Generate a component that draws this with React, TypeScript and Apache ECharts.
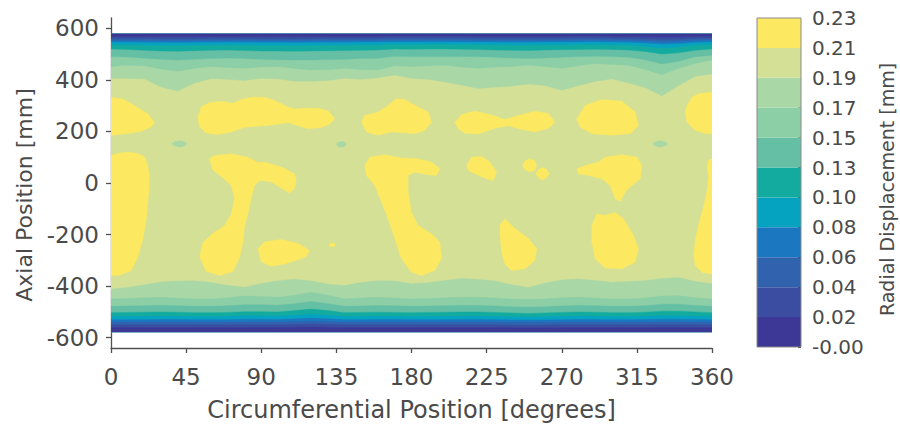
import React, { useEffect, useRef } from "react";
import * as echarts from "echarts";

// ---------- data ----------
// colour of each contour level (0: -0.00..0.02 ... 10: 0.21..0.23)
const levelColors = [
  "#3d3895", "#3a4da0", "#3062ae", "#1b78c0", "#06a3c0", "#13ab9f",
  "#64bfa4", "#8ccea6", "#aad7a6", "#d3e096", "#fde961",
];
const colorbarLabels = ["-0.00", "0.02", "0.04", "0.06", "0.08", "0.10", "0.13", "0.15", "0.17", "0.19", "0.21", "0.23"];
const yTickValues = [-600, -400, -200, 0, 200, 400, 600];

// extent of the measured surface (mm)
const topEdge = 578;
const bottomEdge = -577;

// circumferential positions (deg) of the band boundary samples
const bandDeg = [0, 10, 20, 30, 40, 50, 60, 70, 80, 90, 100, 110, 120, 130, 140, 150, 160, 170, 180, 190, 200, 210, 220, 230, 240, 250, 260, 270, 280, 290, 300, 310, 320, 330, 340, 350, 360];

// top edge contour boundaries (mm)
const topB19 = [406, 406, 404, 372, 357, 388, 405, 402, 398, 406, 404, 395, 395, 398, 406, 402, 408, 419, 406, 402, 392, 380, 367, 372, 376, 384, 378, 360, 378, 394, 404, 388, 370, 338, 378, 414, 423];
const topB17 = [452, 457, 455, 442, 433, 445, 452, 448, 445, 450, 452, 444, 438, 440, 445, 440, 438, 455, 452, 455, 457, 450, 445, 450, 452, 457, 452, 445, 455, 464, 460, 457, 440, 420, 445, 464, 477];
const topB15 = [491, 489, 484, 480, 477, 480, 483, 485, 483, 480, 478, 477, 477, 479, 480, 483, 484, 492, 491, 491, 491, 491, 490, 488, 485, 483, 485, 488, 491, 492, 491, 488, 478, 462, 472, 490, 496];
const topB13 = [520, 518, 515, 512, 511, 513, 515, 516, 514, 512, 512, 511, 512, 513, 514, 515, 516, 520, 519, 520, 520, 519, 518, 516, 515, 514, 516, 517, 518, 519, 518, 516, 510, 500, 505, 515, 520];
const topB10 = [537, 536, 535, 534, 534, 535, 535, 536, 535, 534, 534, 533, 534, 535, 535, 536, 536, 538, 537, 538, 538, 537, 537, 536, 535, 535, 536, 536, 537, 537, 536, 535, 530, 524, 528, 535, 538];
const topB08 = [547, 547, 546, 546, 545, 546, 546, 547, 546, 546, 546, 545, 546, 546, 546, 547, 547, 548, 548, 548, 548, 547, 547, 547, 546, 546, 547, 547, 547, 548, 547, 546, 543, 539, 541, 546, 548];
const topB06 = [554, 554, 554, 553, 553, 553, 554, 554, 554, 553, 553, 553, 553, 554, 554, 554, 554, 555, 555, 555, 555, 555, 554, 554, 554, 554, 554, 554, 555, 555, 554, 554, 552, 549, 550, 554, 555];
const topB04 = [561, 561, 561, 560, 560, 560, 561, 561, 561, 560, 560, 560, 560, 561, 561, 561, 561, 562, 562, 562, 562, 562, 561, 561, 561, 561, 561, 561, 562, 562, 561, 561, 559, 557, 558, 561, 562];
const topB02 = [569, 569, 569, 568, 568, 568, 569, 569, 569, 568, 568, 568, 568, 569, 569, 569, 569, 570, 570, 570, 570, 570, 569, 569, 569, 569, 569, 569, 570, 570, 569, 569, 568, 566, 567, 569, 570];

// bottom edge contour boundaries (mm)
const botB19 = [-412, -405, -395, -384, -380, -379, -386, -398, -404, -390, -379, -373, -380, -393, -398, -386, -379, -380, -391, -387, -378, -370, -374, -380, -395, -405, -388, -376, -372, -378, -385, -382, -379, -370, -367, -382, -391];
const botB17 = [-450, -448, -445, -443, -446, -450, -450, -445, -438, -440, -443, -435, -424, -435, -450, -446, -443, -446, -450, -448, -445, -443, -443, -446, -450, -452, -450, -445, -443, -446, -450, -450, -446, -438, -437, -445, -450];
const botB15 = [-478, -477, -476, -475, -476, -478, -478, -476, -472, -472, -474, -468, -460, -468, -478, -477, -475, -476, -478, -477, -476, -475, -475, -477, -480, -482, -480, -477, -475, -476, -478, -478, -476, -470, -470, -475, -478];
const botB13 = [-503, -502, -501, -500, -501, -503, -503, -502, -499, -499, -500, -495, -489, -495, -503, -502, -501, -502, -503, -502, -501, -500, -500, -502, -504, -506, -504, -502, -500, -501, -503, -503, -501, -497, -497, -500, -503];
const botB10 = [-518, -518, -517, -517, -517, -518, -518, -517, -515, -515, -516, -513, -509, -513, -518, -518, -517, -517, -518, -518, -517, -517, -517, -518, -519, -520, -519, -518, -517, -517, -518, -518, -517, -515, -515, -517, -518];
const botB08 = [-530, -530, -530, -529, -529, -530, -530, -530, -528, -528, -529, -527, -524, -527, -530, -530, -529, -529, -530, -530, -530, -529, -529, -530, -531, -531, -531, -530, -529, -529, -530, -530, -529, -528, -528, -529, -530];
const botB06 = [-540, -540, -540, -540, -540, -540, -540, -540, -539, -539, -539, -538, -536, -538, -540, -540, -540, -540, -540, -540, -540, -540, -540, -540, -541, -541, -541, -540, -540, -540, -540, -540, -540, -539, -539, -540, -540];
const botB04 = [-551, -551, -551, -551, -551, -551, -551, -551, -550, -550, -550, -549, -548, -549, -551, -551, -551, -551, -551, -551, -551, -551, -551, -551, -552, -552, -552, -551, -551, -551, -551, -551, -551, -550, -550, -551, -551];
const botB02 = [-561, -561, -561, -561, -561, -561, -561, -561, -561, -561, -561, -560, -559, -560, -561, -561, -561, -561, -561, -561, -561, -561, -561, -561, -562, -562, -562, -561, -561, -561, -561, -561, -561, -561, -561, -561, -561];

// regions above 0.21 mm (outline points, [deg, mm])
const blobA = [[0, 333], [7, 326], [14, 301], [22, 269], [26, 236], [24, 217], [18, 200], [8, 190], [0, 185]];
const blobA360 = [[360, 353], [352, 346], [348, 333], [345, 300], [344, 275], [345, 236], [350, 204], [356, 192], [360, 190]];
const blobB = [[52, 255], [54, 295], [59, 312], [66, 317], [73, 309], [79, 326], [86, 334], [93, 331], [99, 317], [105, 298], [110, 287], [116, 290], [124, 290], [130, 280], [134, 250], [131, 228], [126, 215], [118, 210], [112, 222], [106, 235], [98, 226], [88, 220], [80, 216], [72, 198], [64, 188], [57, 194], [53, 218]];
const blobC = [[0, 108], [5, 116], [10, 120], [16, 114], [20, 102], [22, 70], [23, 30], [23, -10], [22, -80], [21, -150], [19, -220], [16, -290], [12, -340], [5, -358], [0, -360]];
const blobC360 = [[360, 94], [358, 90], [357, 60], [358, 25], [357, -30], [355, -90], [352, -160], [350, -220], [349, -280], [350, -320], [354, -346], [360, -354]];
const blobD = [[59, 94], [62, 107], [72, 113], [82, 100], [88, 80], [92, 81], [98, 70], [104, 57], [110, 35], [111, 10], [110, -20], [107, -40], [102, -20], [96, 5], [89, 10], [86, -10], [84, -60], [82, -120], [80, -170], [79, -230], [77, -290], [73, -343], [65, -359], [57, -342], [53, -285], [55, -232], [61, -195], [68, -165], [72, -120], [74, -60], [72, -10], [67, 20], [61, 50]];
const blobE = [[88, -255], [92, -228], [102, -219], [112, -234], [119, -262], [117, -285], [112, -298], [104, -314], [96, -323], [90, -305]];
const blobDot = [[130.5, -240], [131.5, -233], [133.5, -233], [134.5, -240], [133.5, -247], [131.5, -247]];
const blobF = [[150, 236], [152, 262], [160, 275], [166, 301], [171, 327], [176, 324], [184, 295], [190, 275], [192, 236], [188, 204], [182, 191], [176, 195], [168, 198], [160, 185], [153, 198]];
const blobG = [[206, 236], [210, 266], [218, 279], [228, 264], [236, 246], [244, 262], [254, 278], [262, 270], [266, 236], [262, 212], [254, 198], [246, 208], [238, 222], [230, 212], [220, 190], [212, 193], [208, 210]];
const blobH = [[279, 249], [284, 301], [294, 324], [306, 317], [314, 275], [316, 223], [311, 191], [300, 185], [288, 191], [281, 217]];
const blobI = [[152, 68], [155, 100], [164, 110], [174, 97], [184, 94], [192, 81], [197, 55], [195, 29], [190, 32], [182, 42], [178, 29], [178, -35], [180, -113], [184, -165], [192, -197], [197, -229], [198, -294], [194, -339], [186, -359], [180, -346], [174, -294], [170, -217], [166, -139], [162, -74], [158, -10], [153, 29]];
const blobK = [[213, 68], [216, 100], [222, 103], [227, 81], [231, 42], [229, 10], [225, 16], [218, 36], [214, 49]];
const blobJ = [[236, -139], [242, -176], [250, -215], [255, -255], [254, -300], [248, -333], [240, -339], [236, -315], [234, -270], [233, -200], [233, -160]];
const blobL1 = [[246.5, 68], [248, 86], [251, 94], [254, 86], [255, 68], [254, 50], [251, 43], [248, 50]];
const blobL2 = [[254.5, 36], [256, 52], [258.5, 60], [261, 52], [262.5, 36], [261, 20], [258.5, 12], [256, 20]];
const blobM = [[279, 55], [284, 68], [292, 81], [296, 100], [306, 110], [315, 100], [318, 68], [317, 16], [312, -10], [308, -35], [305, -72], [302, -61], [299, -10], [294, 16], [286, 29], [280, 36]];
const blobN = [[288, -165], [291, -119], [296, -126], [302, -113], [307, -139], [313, -204], [316, -255], [314, -307], [306, -333], [296, -330], [290, -294], [288, -229]];

// small spots below 0.19 mm inside the middle region
const spot1 = [[36.5, 152], [38, 160], [41, 164], [44, 160], [45.5, 152], [44, 144], [41, 140], [38, 144]];
const spot2 = [[135, 150], [136, 158], [138, 161], [140, 158], [141, 150], [140, 142], [138, 139], [136, 142]];
const spot3 = [[324.5, 152], [326, 160], [329, 164], [332, 160], [333.5, 152], [332, 144], [329, 140], [326, 144]];

// ---------- build contour regions ----------
type Region = { level: number; pts: number[][] };

function topBand(b: number[], level: number): Region {
  const pts = bandDeg.map((d, i) => [d, b[i]]);
  pts.push([360, topEdge], [0, topEdge]);
  return { level, pts };
}
function bottomBand(b: number[], level: number): Region {
  const pts = bandDeg.map((d, i) => [d, b[i]]);
  pts.push([360, bottomEdge], [0, bottomEdge]);
  return { level, pts };
}

const regions: Region[] = [
  { level: 9, pts: [[0, bottomEdge], [360, bottomEdge], [360, topEdge], [0, topEdge]] },
  topBand(topB19, 8), topBand(topB17, 7), topBand(topB15, 6), topBand(topB13, 5), topBand(topB10, 4),
  topBand(topB08, 3), topBand(topB06, 2), topBand(topB04, 1), topBand(topB02, 0),
  bottomBand(botB19, 8), bottomBand(botB17, 7), bottomBand(botB15, 6), bottomBand(botB13, 5), bottomBand(botB10, 4),
  bottomBand(botB08, 3), bottomBand(botB06, 2), bottomBand(botB04, 1), bottomBand(botB02, 0),
  { level: 8, pts: spot1 }, { level: 8, pts: spot2 }, { level: 8, pts: spot3 },
  ...[blobA, blobA360, blobB, blobC, blobC360, blobD, blobE, blobDot, blobF, blobG, blobH, blobI, blobK, blobJ, blobL1, blobL2, blobM, blobN].map(
    (pts) => ({ level: 10, pts })
  ),
];

const FONT = "'DejaVu Sans', sans-serif";
const TEXT = "#4a4a4a";
const AXIS = "#505050";

export default function App() {
  const ref = useRef<HTMLDivElement>(null);

  useEffect(() => {
    document.body.style.margin = "0";
    if (!ref.current) return;
    const chart = echarts.init(ref.current, undefined, { renderer: "svg" });

    const colorbarSeries = levelColors.map((c, i) => ({
      type: "bar",
      name: "L" + i,
      stack: "cb",
      xAxisIndex: 1,
      yAxisIndex: 1,
      data: [1],
      barWidth: "100%",
      itemStyle: { color: c },
      silent: true,
      z: 1,
    }));

    chart.setOption({
      animation: false,
      backgroundColor: "#ffffff",
      textStyle: { fontFamily: FONT },
      grid: [
        { left: 111, top: 18, width: 601, height: 330 },
        {
          left: 757, top: 18, width: 44, height: 329,
          show: true, borderColor: "#8a8a8a", borderWidth: 1, backgroundColor: "transparent", z: 10,
        },
      ],
      xAxis: [
        {
          type: "value", gridIndex: 0, min: 0, max: 360, interval: 45,
          axisLine: { onZero: false, lineStyle: { color: AXIS, width: 1.3 } },
          axisTick: { length: 5, lineStyle: { color: AXIS, width: 1.3 } },
          axisLabel: { fontSize: 23, color: TEXT, margin: 17, fontFamily: FONT },
          splitLine: { show: false },
          name: "Circumferential Position [degrees]",
          nameLocation: "middle", nameGap: 50,
          nameTextStyle: { fontSize: 24, color: TEXT, fontFamily: FONT },
        },
        { type: "category", gridIndex: 1, data: [""], show: false },
      ],
      yAxis: [
        {
          type: "value", gridIndex: 0, min: -640, max: 640,
          axisLine: { show: true, onZero: false, lineStyle: { color: AXIS, width: 1.3 } },
          axisTick: { show: true, length: 5, customValues: yTickValues, lineStyle: { color: AXIS, width: 1.3 } },
          axisLabel: { fontSize: 23, color: TEXT, margin: 12, customValues: yTickValues, fontFamily: FONT },
          splitLine: { show: false },
          name: "Axial Position [mm]",
          nameLocation: "middle", nameGap: 68,
          nameTextStyle: { fontSize: 22, color: TEXT, fontFamily: FONT, padding: [0, 24, 0, 0] },
        },
        {
          type: "value", gridIndex: 1, min: 0, max: 11, interval: 1, position: "right",
          axisLine: { show: false },
          axisTick: { show: true, inside: true, length: 3, lineStyle: { color: "#333" } },
          axisLabel: {
            fontSize: 20, color: TEXT, margin: 11, fontFamily: FONT,
            formatter: (v: number) => colorbarLabels[Math.round(v)] ?? "",
          },
          splitLine: { show: false },
          name: "Radial Displacement [mm]",
          nameLocation: "middle", nameGap: 76, nameRotate: 90,
          nameTextStyle: { fontSize: 19, color: TEXT, fontFamily: FONT, padding: [0, 14, 0, 0] },
        },
      ],
      series: [
        {
          type: "custom",
          xAxisIndex: 0,
          yAxisIndex: 0,
          clip: true,
          silent: true,
          data: regions.map((r) => [r.pts[0][0], r.pts[0][1]]),
          renderItem: (params: any, api: any) => {
            const r = regions[params.dataIndex];
            return {
              type: "polygon",
              shape: { points: r.pts.map((p) => api.coord(p)) },
              style: { fill: levelColors[r.level], stroke: levelColors[r.level], lineWidth: 0.4 },
            };
          },
        },
        ...colorbarSeries,
      ],
    });

    return () => chart.dispose();
  }, []);

  return <div ref={ref} style={{ width: 900, height: 430 }} />;
}
